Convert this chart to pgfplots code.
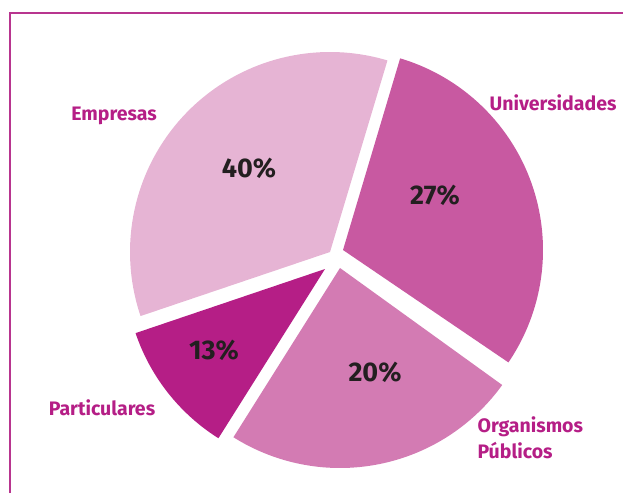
\documentclass[border=0pt]{standalone}
\usepackage{fontspec}
\setmainfont{Fira Sans}
\usepackage{pgfplots}
\pgfplotsset{compat=1.18}

\definecolor{cEmp}{HTML}{E6B4D4}
\definecolor{cUni}{HTML}{C859A1}
\definecolor{cOrg}{HTML}{D37BB3}
\definecolor{cPar}{HTML}{B51E86}
\definecolor{cLab}{HTML}{B51E86}
\definecolor{cNum}{HTML}{231F20}
\definecolor{cFrame}{HTML}{B8358F}

% one exploded slice: apex x, apex y, start angle, end angle, colour
\newcommand{\slice}[5]{%
  \addplot[fill=#5, draw=none, domain=#3:#4, samples=90, variable=\t]
    ({#1+200*cos(\t)}, {#2+200*sin(\t)}) -- (axis cs:#1,#2) -- cycle;
}

\begin{document}
\begin{tikzpicture}
\begin{axis}[
    scale only axis, width=623pt, height=493pt,
    xmin=0, xmax=623, ymin=0, ymax=493,
    hide axis, clip=false,
]
% shares as drawn in the picture (labels give 40/27/20/13 %)
\slice{330}{241}{73.3}{198.7}{cEmp}    % Empresas
\slice{343}{243}{-34.2}{73.4}{cUni}    % Universidades
\slice{340}{225}{-122.2}{-35.8}{cOrg}  % Organismos Publicos
\slice{325}{224}{-161.3}{-122.2}{cPar} % Particulares

\begin{scope}[font=\bfseries\fontsize{19.5}{26}\selectfont, text=cLab]
\node at (axis cs:114,377) {Empresas};
\node at (axis cs:553,390) {Universidades};
\node at (axis cs:102,85) {Particulares};
\node[anchor=west, align=left] at (axis cs:474,55) {Organismos\\Públicos};
\end{scope}
\begin{scope}[font=\bfseries\fontsize{27}{30}\selectfont, text=cNum]
\node at (axis cs:249,325) {40\%};
\node at (axis cs:435,298) {27\%};
\node at (axis cs:214,143) {13\%};
\node at (axis cs:375,121) {20\%};
\end{scope}

\draw[cFrame, line width=1.8pt] (axis cs:10,0) -- (axis cs:10,480) -- (axis cs:623,480);
\end{axis}
\pgfresetboundingbox
\path (current axis.south west) (current axis.north east);
\end{tikzpicture}
\end{document}
